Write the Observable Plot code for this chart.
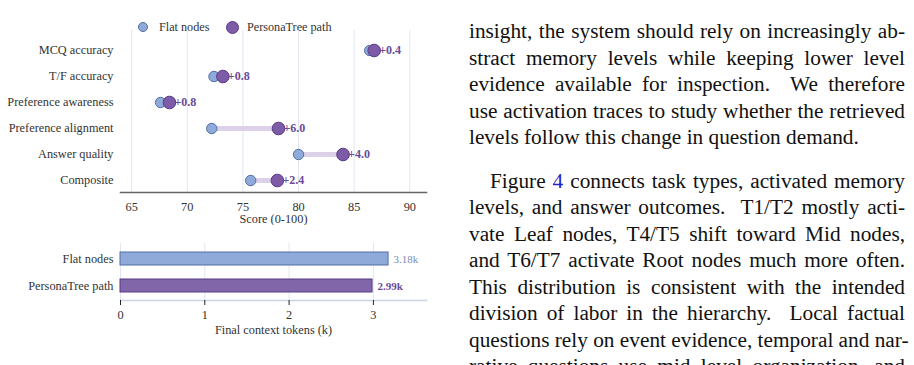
<!DOCTYPE html>
<html>
<head>
<meta charset="utf-8">
<script src="https://cdn.jsdelivr.net/npm/d3@7"></script>
<script src="https://cdn.jsdelivr.net/npm/@observablehq/plot@0.6"></script>
<style>
  html, body { margin: 0; padding: 0; background: #fff; }
  body { width: 914px; height: 365px; overflow: hidden; position: relative; font-family: "Liberation Serif", serif; color: #111; }
  svg, svg text, svg g { font-family: "Liberation Serif", serif !important; }
  .abs { position: absolute; }
  .legend-dot { position: absolute; border-radius: 50%; box-sizing: border-box; }
  .legend-text { position: absolute; font-size: 12.2px; color: #333; line-height: 14px; white-space: nowrap; }
  #prose { position: absolute; left: 469px; top: 18px; width: 436px; font-size: 21.3px; line-height: 26.5px; color: #111; }
  #prose .ln { text-align: justify; text-align-last: justify; white-space: nowrap; height: 26.5px; }
  #prose .last { text-align: left; text-align-last: left; }
  #prose .p2 { margin-top: 17px; }
  #prose .ind { text-indent: 21px; }
  #prose a { color: #2323c4; text-decoration: none; }
</style>
</head>
<body>
<div id="legend"></div>
<div id="topChart" class="abs" style="left:0;top:0"></div>
<div id="bottomChart" class="abs" style="left:0;top:230px"></div>
<div id="prose">
  <div class="ln">insight, the system should rely on increasingly ab-</div>
  <div class="ln">stract memory levels while keeping lower level</div>
  <div class="ln">evidence available for inspection.&nbsp; We therefore</div>
  <div class="ln">use activation traces to study whether the retrieved</div>
  <div class="ln last">levels follow this change in question demand.</div>
  <div class="ln ind p2">Figure <a>4</a> connects task types, activated memory</div>
  <div class="ln">levels, and answer outcomes.&nbsp; T1/T2 mostly acti-</div>
  <div class="ln">vate Leaf nodes, T4/T5 shift toward Mid nodes,</div>
  <div class="ln">and T6/T7 activate Root nodes much more often.</div>
  <div class="ln">This distribution is consistent with the intended</div>
  <div class="ln">division of labor in the hierarchy.&nbsp; Local factual</div>
  <div class="ln">questions rely on event evidence, temporal and nar-</div>
  <div class="ln">rative questions use mid level organization, and</div>
</div>
<script>
// ---- data ----
const metrics = ["MCQ accuracy", "T/F accuracy", "Preference awareness", "Preference alignment", "Answer quality", "Composite"];
const flatScores = [86.4, 72.4, 67.6, 72.2, 80.0, 75.7];
const treeScores = [86.8, 73.2, 68.4, 78.2, 84.0, 78.1];
const scoreTicks = [65, 70, 75, 80, 85, 90];
const methods = ["Flat nodes", "PersonaTree path"];
const contextTokens = [3.18, 2.99];
const tokenTicks = [0, 1, 2, 3];

// ---- styles ----
const FLAT = {fill: "#8faad9", stroke: "#4f6fa9", label: "#7a8cb4"};
const TREE = {fill: "#7e5ba7", stroke: "#573a88", label: "#6a4a99", bar: "#8167aa"};
const LINK = "#ddd1e9";
const GRID = "#e2e6f0";
const FONT = "Liberation Serif";
const FS = 12.3;

// ---- legend ----
const legendEl = document.getElementById("legend");
const legendItems = [
  {name: methods[0], cx: 143, r: 5.2, fill: FLAT.fill, stroke: FLAT.stroke, tx: 159},
  {name: methods[1], cx: 232, r: 6.5, fill: TREE.fill, stroke: TREE.stroke, tx: 247}
];
for (const it of legendItems) {
  const d = document.createElement("div");
  d.className = "legend-dot";
  d.style.left = (it.cx - it.r) + "px";
  d.style.top = (27 - it.r) + "px";
  d.style.width = d.style.height = (2 * it.r) + "px";
  d.style.background = it.fill;
  d.style.border = "1px solid " + it.stroke;
  legendEl.appendChild(d);
  const t = document.createElement("div");
  t.className = "legend-text";
  t.style.left = it.tx + "px";
  t.style.top = "20px";
  t.textContent = it.name;
  legendEl.appendChild(t);
}

// ---- top: dumbbell chart ----
const rows = metrics.map((m, i) => ({metric: m, flat: flatScores[i], tree: treeScores[i]}));

const dumbbell = Plot.plot({
  width: 440, height: 225,
  marginLeft: 120, marginRight: 14, marginTop: 30, marginBottom: 33,
  style: {fontFamily: FONT, fontSize: FS + "px", color: "#333", background: "transparent"},
  x: {domain: [64, 91.5]},
  y: {type: "point", domain: metrics, padding: 0, insetTop: 18, insetBottom: 11},
  marks: [
    Plot.gridX(scoreTicks, {stroke: GRID, strokeOpacity: 1}),
    Plot.frame({anchor: "bottom", stroke: "#666", strokeWidth: 1.5}),
    Plot.axisX(scoreTicks, {tickSize: 0, tickPadding: 10, label: null, fill: "#333", fontSize: FS}),
    Plot.axisY({tickSize: 0, tickPadding: 7, label: null, fill: "#333", fontSize: FS}),
    Plot.ruleY(rows, {y: "metric", x1: "flat", x2: "tree", stroke: LINK, strokeWidth: 5}),
    Plot.dot(rows, {x: "flat", y: "metric", r: 5.2, fill: FLAT.fill, stroke: FLAT.stroke, strokeWidth: 1}),
    Plot.dot(rows, {x: "tree", y: "metric", r: 6.3, fill: TREE.fill, stroke: TREE.stroke, strokeWidth: 1}),
    Plot.text(rows, {x: "tree", y: "metric", text: d => "+" + (d.tree - d.flat).toFixed(1), dx: 5, textAnchor: "start", fontWeight: "bold", fill: TREE.label, fontSize: 12}),
    Plot.text(["Score (0-100)"], {frameAnchor: "bottom", dy: 30, fill: "#333", fontSize: FS})
  ]
});
document.getElementById("topChart").appendChild(dumbbell);

// ---- bottom: bar chart ----
const bars = methods.map((m, i) => ({method: m, tokens: contextTokens[i]}));
const isFlat = d => d.method === methods[0];

const barChart = Plot.plot({
  width: 440, height: 135,
  marginLeft: 120, marginRight: 14, marginTop: 13, marginBottom: 65,
  style: {fontFamily: FONT, fontSize: FS + "px", color: "#333", background: "transparent"},
  x: {domain: [0, 3.63]},
  y: {domain: methods, paddingInner: 0.536, paddingOuter: 0.286},
  marks: [
    Plot.gridX(tokenTicks, {stroke: GRID, strokeOpacity: 1}),
    Plot.barX(bars, {filter: isFlat, y: "method", x: "tokens", fill: FLAT.fill, stroke: FLAT.stroke, strokeWidth: 1}),
    Plot.barX(bars, {filter: d => !isFlat(d), y: "method", x: "tokens", fill: TREE.bar, stroke: TREE.stroke, strokeWidth: 1}),
    Plot.frame({anchor: "bottom", stroke: "#cbd3e4", strokeWidth: 1.5}),
    Plot.axisX(tokenTicks, {tickSize: 5, tickPadding: 5, label: null, stroke: "#222", fill: "#333", fontSize: FS}),
    Plot.axisY({tickSize: 0, tickPadding: 7, label: null, fill: "#333", fontSize: FS}),
    Plot.text(bars, {filter: isFlat, x: "tokens", y: "method", text: d => d.tokens.toFixed(2) + "k", dx: 5, textAnchor: "start", fill: FLAT.label, fontSize: 11}),
    Plot.text(bars, {filter: d => !isFlat(d), x: "tokens", y: "method", text: d => d.tokens.toFixed(2) + "k", dx: 5, textAnchor: "start", fill: TREE.label, fontWeight: "bold", fontSize: 11}),
    Plot.text(["Final context tokens (k)"], {frameAnchor: "bottom", dy: 33, fill: "#333", fontSize: FS})
  ]
});
document.getElementById("bottomChart").appendChild(barChart);
</script>
</body>
</html>
